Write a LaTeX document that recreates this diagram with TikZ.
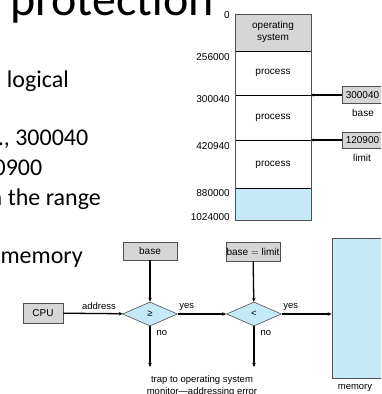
\documentclass[tikz,border=0pt]{standalone}
\usepackage{fontspec}
\setmainfont{Liberation Sans}
\newfontfamily\slidefont{Carlito}
\usetikzlibrary{arrows.meta,shapes.geometric}

\definecolor{osgray}{HTML}{D6D6D6}
\definecolor{memblue}{HTML}{C6E9F8}
\definecolor{edgegray}{HTML}{505050}

\begin{document}
\begin{tikzpicture}[x=1pt,y=-1pt,
  lbl/.style={font=\fontsize{9.5}{12}\selectfont,inner sep=0pt},
  maplbl/.style={font=\fontsize{10}{12}\selectfont,inner sep=0pt},
  slide/.style={font=\slidefont\fontsize{24}{28}\selectfont,inner sep=0pt},
  regbox/.style={draw=edgegray,fill=osgray,line width=0.7pt,inner sep=0pt,font=\fontsize{10}{12}\selectfont},
  test/.style={diamond,draw=edgegray,fill=memblue,line width=0.6pt,minimum width=55pt,minimum height=24pt,inner sep=0pt,font=\fontsize{9.5}{12}\selectfont},
  flow/.style={line width=1.3pt,-{Stealth[length=4pt,width=3.5pt]}}]

\useasboundingbox (0,0) rectangle (381,394);
\clip (0,0) rectangle (381,394);

% slide text, cut by the crop
\node[slide,font=\slidefont\fontsize{48}{50}\selectfont,anchor=base east] (title) at (214,15) {protection};
\node[slide,anchor=base east] (line1) at (69,87) {logical};
\node[slide,anchor=base east] (line2) at (88.5,145) {g., 300040};
\node[slide,anchor=base east] (line3) at (42.5,175) {0900};
\node[slide,anchor=base east] (line4) at (101,205) {n the range};
\node[slide,anchor=base east] (line5) at (83,263) {memory};

% memory map
\fill[osgray] (235,14) rectangle (311,51);
\fill[memblue] (235,188) rectangle (311,220);
\foreach \y in {51,95,140,188}
  \draw[black,line width=0.5pt] (235,\y) -- (311,\y);
\draw[edgegray,line width=0.8pt] (235,14) rectangle (311,220);

\node[maplbl,align=center] (os) at (273,32) {operating\\system};
\node[maplbl] (p1) at (273,73) {process};
\node[maplbl] (p2) at (273,118) {process};
\node[maplbl] (p3) at (273,165) {process};

\node[maplbl,anchor=east] (a0) at (230,15) {0};
\node[maplbl,anchor=east] (a1) at (230,57) {256000};
\node[maplbl,anchor=east] (a2) at (230,99) {300040};
\node[maplbl,anchor=east] (a3) at (230,146) {420940};
\node[maplbl,anchor=east] (a4) at (230,193) {880000};
\node[maplbl,anchor=east] (a5) at (230,217) {1024000};

% base and limit registers
\node[regbox,minimum width=41pt,minimum height=17pt] (basereg) at (362.5,95) {300040};
\node[maplbl] (basename) at (363,113) {base};
\node[regbox,minimum width=41pt,minimum height=16pt] (limitreg) at (362.5,140) {120900};
\node[maplbl] (limitname) at (362,158) {limit};
\coordinate (memB) at (311,95);
\coordinate (memL) at (311,140);
\draw[line width=1.2pt,-{Stealth[length=3pt,width=3pt]}] (basereg) -- (memB);
\draw[line width=1.2pt,-{Stealth[length=3pt,width=3pt]}] (limitreg) -- (memL);

% hardware check
\node[regbox,minimum width=40pt,minimum height=20pt] (cpu) at (43,313) {CPU};
\node[regbox,minimum width=54pt,minimum height=18pt] (basebox) at (150,251) {base};
\node[regbox,minimum width=54pt,minimum height=19pt] (boundbox) at (253,251.5) {base $=$ limit};
\node[test] (geq) at (150,314) {≥};
\node[test] (lt) at (254,314) {<};
\node[draw=edgegray,fill=memblue,line width=0.8pt,minimum width=52pt,minimum height=140pt] (mem) at (358,308) {};
\node[lbl] (memname) at (355,388) {memory};
\node[lbl,align=center] (trap) at (202,386) {trap to operating system\\monitor—addressing error};
\coordinate (trapA) at (150,367);
\coordinate (trapB) at (254,367);

\draw[flow] (cpu) -- node[lbl,pos=0.6,above=3pt] {address} (geq);
\draw[flow] (basebox) -- (geq);
\draw[flow] (geq) -- node[lbl,pos=0,anchor=south west,xshift=1pt,yshift=3pt] {yes} (lt);
\draw[flow] (boundbox) -- (lt);
\draw[flow] (lt) -- node[lbl,pos=0,anchor=south west,xshift=1pt,yshift=3pt] {yes} (lt -| mem.west);
\draw[flow] (geq) -- node[lbl,pos=0,anchor=north west,xshift=6pt,yshift=-3pt] {no} (trapA);
\draw[flow] (lt) -- node[lbl,pos=0,anchor=north west,xshift=6pt,yshift=-3pt] {no} (trapB);

\end{tikzpicture}
\end{document}
